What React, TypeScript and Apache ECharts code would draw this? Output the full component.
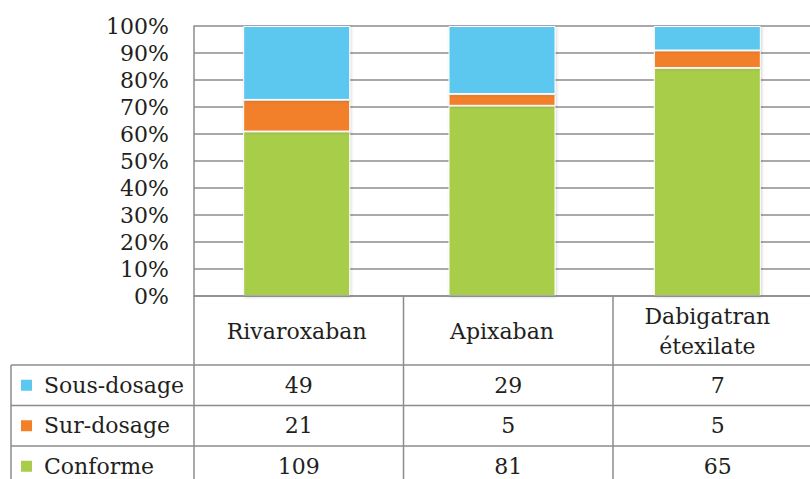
import React, { useEffect, useRef } from "react";
import * as echarts from "echarts";

const categories = ["Rivaroxaban", "Apixaban", "Dabigatran\nétexilate"];
const sousDosage = [49, 29, 7];
const surDosage = [21, 5, 5];
const conforme = [109, 81, 65];
const seriesNames = ["Sous-dosage", "Sur-dosage", "Conforme"];
const seriesColors = ["#5BC8EF", "#F28029", "#A8CD4A"];

const FONT = "DejaVu Serif";
const TEXT = "#231f20";
const LINE = "#8c8c8c";

// layout
const W = 810;
const H = 479;
const GRID_LEFT = 194;
const GRID_TOP = 26;
const GRID_BOTTOM_Y = 296;
const CAT_W = 209.5;
const HEADER_BOTTOM = 365;
const ROW_H = 40.5;
const TABLE_LEFT = 11;

export default function App() {
  const ref = useRef<HTMLDivElement>(null);
  useEffect(() => {
    if (!ref.current) return;
    const chart = echarts.init(ref.current, undefined, { renderer: "svg" });
    const totals = categories.map((_, i) => sousDosage[i] + surDosage[i] + conforme[i]);
    const pct = (arr: number[]) => arr.map((v, i) => (v / totals[i]) * 100);

    const rows = [
      { name: seriesNames[0], color: seriesColors[0], data: sousDosage },
      { name: seriesNames[1], color: seriesColors[1], data: surDosage },
      { name: seriesNames[2], color: seriesColors[2], data: conforme },
    ];

    const gridRight = W - (GRID_LEFT + CAT_W * categories.length);
    const tableRight = GRID_LEFT + CAT_W * categories.length;

    const lineStyle = { stroke: LINE, lineWidth: 1.5 };
    const graphics: any[] = [];
    // vertical lines of table
    for (let c = 0; c <= categories.length; c++) {
      const x = GRID_LEFT + CAT_W * c;
      graphics.push({
        type: "line",
        shape: { x1: x, y1: GRID_BOTTOM_Y, x2: x, y2: H + 5 },
        style: lineStyle,
        silent: true,
      });
    }
    graphics.push({
      type: "line",
      shape: { x1: TABLE_LEFT, y1: HEADER_BOTTOM, x2: TABLE_LEFT, y2: H + 5 },
      style: lineStyle,
      silent: true,
    });
    rows.forEach((row, r) => {
      const yTop = HEADER_BOTTOM + r * ROW_H;
      const yMid = yTop + ROW_H / 2;
      graphics.push({
        type: "line",
        shape: { x1: TABLE_LEFT, y1: yTop, x2: tableRight, y2: yTop },
        style: lineStyle,
        silent: true,
      });
      graphics.push({
        type: "rect",
        shape: { x: 21, y: yMid - 5.5, width: 11, height: 11 },
        style: { fill: row.color },
        silent: true,
      });
      graphics.push({
        type: "text",
        x: 44,
        y: yMid,
        style: {
          text: row.name,
          fontFamily: FONT,
          fontSize: 22,
          fill: TEXT,
          align: "left",
          verticalAlign: "middle",
          textAlign: "left",
          textVerticalAlign: "middle",
        },
        silent: true,
      });
      row.data.forEach((v, c) => {
        graphics.push({
          type: "text",
          x: GRID_LEFT + CAT_W * (c + 0.5),
          y: yMid,
          style: {
            text: String(v),
            fontFamily: FONT,
            fontSize: 22,
            fill: TEXT,
            align: "center",
            verticalAlign: "middle",
            textAlign: "center",
            textVerticalAlign: "middle",
          },
          silent: true,
        });
      });
    });

    const barItem = (color: string) => ({
      color,
      borderColor: "#ffffff",
      borderWidth: 1,
      shadowBlur: 3,
      shadowColor: "rgba(0,0,0,0.18)",
      shadowOffsetX: 1,
      shadowOffsetY: 1,
    });

    chart.setOption({
      animation: false,
      grid: {
        left: GRID_LEFT,
        top: GRID_TOP,
        right: gridRight,
        bottom: H - GRID_BOTTOM_Y,
        containLabel: false,
      },
      xAxis: {
        type: "category",
        data: categories,
        axisLine: { show: true, lineStyle: { color: LINE, width: 1.5 } },
        axisTick: { show: false },
        axisLabel: {
          fontFamily: FONT,
          fontSize: 22,
          color: TEXT,
          lineHeight: 30,
          margin: 35,
          verticalAlign: "middle",
          interval: 0,
        },
        splitLine: { show: false },
        z: 10,
      },
      yAxis: {
        type: "value",
        min: 0,
        max: 100,
        interval: 10,
        axisLine: { show: true, lineStyle: { color: LINE, width: 1.5 } },
        axisTick: { show: false },
        axisLabel: {
          formatter: "{value}%",
          fontFamily: FONT,
          fontSize: 22,
          color: TEXT,
          margin: 25,
        },
        splitLine: { show: true, lineStyle: { color: LINE, width: 1.5 } },
      },
      series: [
        {
          name: seriesNames[2],
          type: "bar",
          stack: "total",
          barWidth: 107,
          data: pct(conforme),
          itemStyle: barItem(seriesColors[2]),
        },
        {
          name: seriesNames[1],
          type: "bar",
          stack: "total",
          barWidth: 107,
          data: pct(surDosage),
          itemStyle: barItem(seriesColors[1]),
        },
        {
          name: seriesNames[0],
          type: "bar",
          stack: "total",
          barWidth: 107,
          data: pct(sousDosage),
          itemStyle: barItem(seriesColors[0]),
        },
      ],
      graphic: graphics,
    });
    return () => chart.dispose();
  }, []);
  return (
    <div
      ref={ref}
      style={{ position: "absolute", left: 0, top: 0, width: W, height: H, background: "#fff" }}
    />
  );
}
